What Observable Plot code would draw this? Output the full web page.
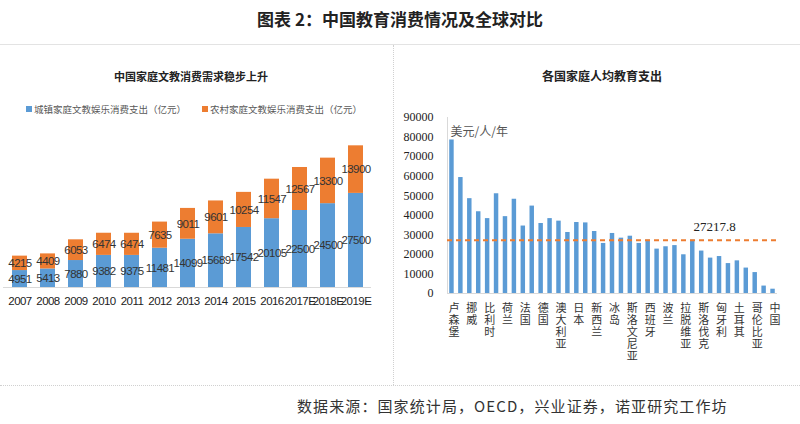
<!DOCTYPE html>
<html>
<head>
<meta charset="utf-8">
<script src="https://cdn.jsdelivr.net/npm/d3@7"></script>
<script src="https://cdn.jsdelivr.net/npm/@observablehq/plot@0.6"></script>
<style>
  body { margin: 0; background: #fff; font-family: "Noto Sans CJK SC", sans-serif; }
  #page { position: relative; width: 800px; height: 424px; overflow: hidden; background: #fff; }
  .abs { position: absolute; }
  .legend-item { display: inline-flex; align-items: center; }
  .swatch { width: 6px; height: 6px; display: inline-block; margin-right: 2px; }
</style>
</head>
<body>
<div id="page">
  <div class="abs" style="left:0;top:6px;width:800px;text-align:center;font-size:17px;font-weight:bold;color:#222;">图表 2：中国教育消费情况及全球对比</div>
  <div class="abs" style="left:0;top:44px;width:800px;border-top:1px solid #e3e3e3;"></div>
  <div class="abs" style="left:393px;top:45px;height:340px;border-left:1px dotted #d0d0d0;"></div>
  <div class="abs" style="left:0;top:385px;width:800px;border-top:1px dotted #d0d0d0;"></div>

  <div class="abs" style="left:0;top:68px;width:382px;text-align:center;font-size:11px;font-weight:bold;color:#222;">中国家庭文教消费需求稳步上升</div>
  <div class="abs" id="legend" style="left:26px;top:101px;font-size:9.5px;color:#595959;white-space:nowrap;"></div>
  <div class="abs" id="left" style="left:0;top:115px;"></div>

  <div class="abs" style="left:400px;top:67px;width:404px;text-align:center;font-size:12px;font-weight:bold;color:#222;">各国家庭人均教育支出</div>
  <div class="abs" id="right" style="left:400px;top:105px;"></div>

  <div class="abs" style="left:297px;top:395px;font-size:15px;letter-spacing:1.1px;color:#333;white-space:nowrap;">数据来源：国家统计局，OECD，兴业证券，诺亚研究工作坊</div>
</div>
<script>
// ---------- Left chart data ----------
const years = ["2007","2008","2009","2010","2011","2012","2013","2014","2015","2016","2017E","2018E","2019E"];
const urbanSpend = [4951,5413,7880,9382,9375,11481,14099,15689,17542,20105,22500,24500,27500];
const ruralSpend = [4215,4409,6053,6474,6474,7635,9011,9601,10254,11547,12567,13300,13900];
const seriesNames = ["城镇家庭文教娱乐消费支出（亿元）","农村家庭文教娱乐消费支出（亿元）"];

// ---------- Right chart data ----------
// 37 bars; only every other bar carries a visible label in the picture
const countryLabels = ["卢森堡","挪威","比利时","荷兰","法国","德国","澳大利亚","日本","新西兰","冰岛","斯洛文尼亚","西班牙","波兰","拉脱维亚","斯洛伐克","匈牙利","土耳其","哥伦比亚","中国"];
const perCapitaSpend = [78500,59300,48500,41800,38300,51000,39300,48200,34500,44700,35800,38300,37000,31200,36300,36100,31700,25600,30700,28300,29300,25600,27300,22700,23900,24500,19800,27300,21700,18100,18900,15300,16700,13000,10700,3800,2200];
const averageSpend = 27217.8;
const yTicksRight = [0,10000,20000,30000,40000,50000,60000,70000,80000,90000];
const unitLabel = "美元/人/年";

const BLUE = "#5B9BD5", ORANGE = "#ED7D31";
const seriesColors = [BLUE, ORANGE];

// Legend
const legend = document.getElementById("legend");
seriesNames.forEach((name, i) => {
  const item = document.createElement("span");
  item.className = "legend-item";
  item.style.marginRight = i === 0 ? "16px" : "0";
  const sw = document.createElement("span");
  sw.className = "swatch";
  sw.style.background = seriesColors[i];
  item.appendChild(sw);
  item.appendChild(document.createTextNode(name));
  legend.appendChild(item);
});

// Left stacked bars
const leftData = years.flatMap((y, i) => [
  {year: y, series: seriesNames[0], value: urbanSpend[i]},
  {year: y, series: seriesNames[1], value: ruralSpend[i]}
]);
const numFont = '"Liberation Sans", Arial, sans-serif';
const leftPlot = Plot.plot({
  width: 390, height: 200,
  marginTop: 18, marginBottom: 28, marginLeft: 3, marginRight: 19,
  style: {fontFamily: numFont, fontSize: "11px", letterSpacing: "-0.55px", color: "#333", background: "transparent"},
  x: {domain: years, paddingInner: 0.47, paddingOuter: 0.235, label: null},
  y: {domain: [0, 45000], axis: null},
  color: {domain: seriesNames, range: seriesColors},
  marks: [
    Plot.barY(leftData, {x: "year", y: "value", fill: "series"}),
    Plot.ruleY([0], {stroke: "#d9d9d9"}),
    Plot.text(leftData, Plot.stackY({x: "year", y: "value", z: "series", text: d => String(d.value), fill: "#333", fontSize: 11.5})),
    Plot.axisX({tickSize: 0, tickPadding: 9, label: null, fontSize: 11.5, fill: "#222"})
  ]
});
document.getElementById("left").appendChild(leftPlot);

// Right bars
const idx = d3.range(perCapitaSpend.length);
const serifFont = '"Liberation Serif", "DejaVu Serif", serif';
const rightPlot = Plot.plot({
  width: 400, height: 275,
  marginTop: 12, marginBottom: 87, marginLeft: 47, marginRight: 23,
  style: {fontFamily: serifFont, fontSize: "12px", color: "#333", background: "transparent"},
  x: {domain: idx, paddingInner: 0.5, paddingOuter: 0.25, label: null},
  y: {domain: [0, 90000], label: null},
  marks: [
    Plot.frame({anchor: "left", stroke: "#d9d9d9"}),
    Plot.barY(perCapitaSpend, {x: (d, i) => i, y: d => d, fill: BLUE}),
    Plot.ruleY([0], {stroke: "#d9d9d9"}),
    Plot.ruleY([averageSpend], {stroke: ORANGE, strokeWidth: 2, strokeDasharray: "5,4"}),
    Plot.text([averageSpend], {x: () => 29, y: d => d, text: d => String(d), dx: 4, dy: -13, fontSize: 13, fontFamily: serifFont, fill: "#222"}),
    Plot.text([unitLabel], {frameAnchor: "top-left", dx: 3, dy: 10, fontSize: 12, fontFamily: '"Noto Sans CJK SC", sans-serif', fill: "#555"}),
    Plot.axisY({ticks: yTicksRight, tickSize: 0, tickPadding: 14, label: null, tickFormat: d => String(d), fontSize: 12, fill: "#222"}),
    Plot.axisX({tickSize: 0, tickPadding: 9, label: null, dx: 2,
      tickFormat: i => (i % 2 === 0 ? countryLabels[i / 2] : ""),
      fontSize: 11, fontFamily: '"Noto Sans CJK SC", sans-serif', fill: "#333"})
  ]
});
// stack the Chinese tick labels vertically (upright characters), as in the reference
d3.select(rightPlot).selectAll('g[aria-label="x-axis tick label"] text')
  .attr("y", 0)
  .attr("writing-mode", "vertical-rl")
  .style("text-anchor", "start")
  .style("letter-spacing", "1px");
document.getElementById("right").appendChild(rightPlot);
</script>
</body>
</html>
